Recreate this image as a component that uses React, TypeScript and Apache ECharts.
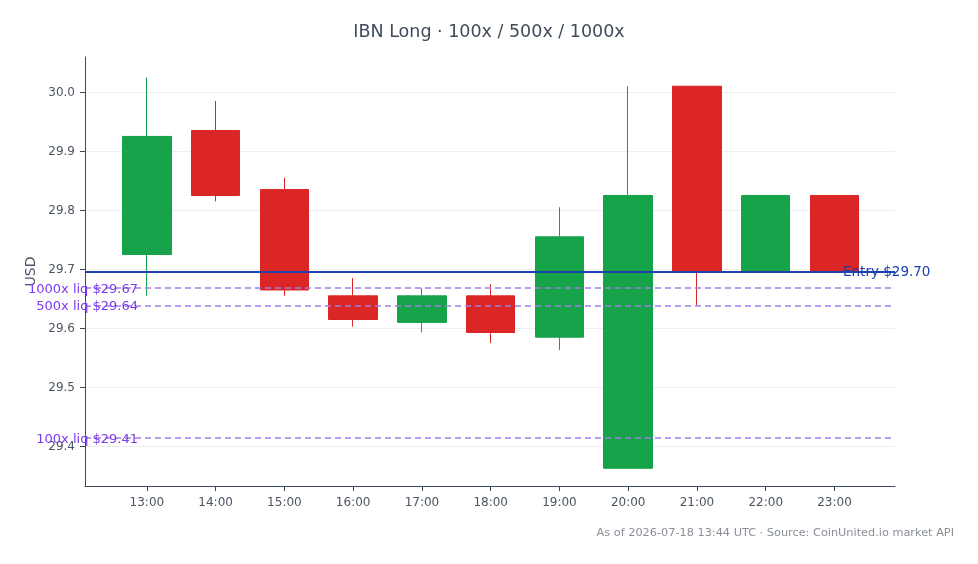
import React, { useEffect, useRef } from "react";
import * as echarts from "echarts";

const hours = ["13:00", "14:00", "15:00", "16:00", "17:00", "18:00", "19:00", "20:00", "21:00", "22:00", "23:00"];
const opens = [29.725, 29.935, 29.835, 29.655, 29.61, 29.655, 29.585, 29.363, 30.01, 29.695, 29.825];
const closes = [29.925, 29.825, 29.665, 29.615, 29.655, 29.593, 29.755, 29.825, 29.695, 29.825, 29.695];
const lows = [29.655, 29.815, 29.655, 29.603, 29.593, 29.575, 29.563, 29.363, 29.639, 29.695, 29.695];
const highs = [30.025, 29.985, 29.855, 29.685, 29.668, 29.675, 29.805, 30.01, 30.01, 29.825, 29.825];

const entryPrice = 29.695;
const liqNames = ["1000x", "500x", "100x"];
const liqPrices = [29.668, 29.639, 29.414];

const yTicks = [29.4, 29.5, 29.6, 29.7, 29.8, 29.9, 30.0];

const FONT = "DejaVu Sans";

export default function App() {
  const ref = useRef<HTMLDivElement>(null);
  useEffect(() => {
    if (!ref.current) return;
    const chart = echarts.init(ref.current, null, { renderer: "svg" });
    const data = hours.map((_, i) => [i, opens[i], closes[i], lows[i], highs[i]]);
    const liqLines = liqNames.map((n, i) => ({
      yAxis: liqPrices[i],
      lineStyle: { color: "#a07fe3", type: [6, 4], width: 1.5 },
      label: {
        show: true,
        position: "start",
        formatter: `${n} liq $${liqPrices[i].toFixed(2)}`,
        color: "#7c3aed",
        fontSize: 13,
        fontFamily: FONT,
        offset: [58, 0],
      },
    }));
    chart.setOption({
      animation: false,
      textStyle: { fontFamily: FONT },
      title: {
        text: "IBN Long · 100x / 500x / 1000x",
        left: "center",
        top: 17,
        textStyle: { fontFamily: FONT, fontSize: 17.5, fontWeight: "normal", color: "#3f4b5b" },
      },
      graphic: [
        {
          type: "text",
          right: 24,
          top: 527,
          style: {
            text: "As of 2026-07-18 13:44 UTC · Source: CoinUnited.io market API",
            fontFamily: FONT,
            fontSize: 11.3,
            fill: "#8a8f98",
          },
        },
      ],
      grid: { left: 85, right: 83, top: 57, bottom: 78 },
      xAxis: {
        type: "value",
        min: -0.9,
        max: 10.88,
        splitLine: { show: false },
        axisLine: { show: true, onZero: false, lineStyle: { color: "#3d4a5c", width: 1 } },
        axisTick: { show: true, length: 5, customValues: hours.map((_, i) => i), lineStyle: { color: "#3d4a5c" } },
        axisLabel: {
          customValues: hours.map((_, i) => i),
          formatter: (v: number) => hours[Math.round(v)],
          color: "#4b5563",
          fontSize: 12,
          fontFamily: FONT,
          margin: 10,
        },
      },
      yAxis: {
        type: "value",
        min: 29.333,
        max: 30.0595,
        name: "USD",
        nameLocation: "middle",
        nameGap: 48,
        nameTextStyle: { color: "#4b5563", fontSize: 14, fontFamily: FONT },
        axisLine: { show: true, onZero: false, lineStyle: { color: "#3d4a5c", width: 1 } },
        axisTick: { show: true, length: 5, customValues: yTicks, lineStyle: { color: "#3d4a5c" } },
        axisLabel: {
          customValues: yTicks,
          formatter: (v: number) => v.toFixed(1),
          color: "#4b5563",
          fontSize: 12,
          fontFamily: FONT,
          margin: 10,
        },
        splitLine: { show: true, lineStyle: { color: "#eceef1", width: 1 } },
      },
      series: [
        {
          type: "candlestick",
          data,
          barWidth: 49,
          itemStyle: {
            color: "#16a34a",
            color0: "#dc2626",
            borderColor: "#16a34a",
            borderColor0: "#dc2626",
            borderWidth: 1,
          },
          markLine: {
            silent: true,
            precision: 4,
            symbol: ["none", "none"],
            data: [
              {
                yAxis: entryPrice,
                lineStyle: { color: "#1e40af", type: "solid", width: 2 },
                label: {
                  show: true,
                  position: "end",
                  formatter: `Entry $${entryPrice.toFixed(2)}`,
                  color: "#1e40af",
                  fontSize: 13.5,
                  fontFamily: FONT,
                  offset: [-57, -1],
                },
              },
              ...liqLines,
            ],
          },
        },
      ],
    });
    return () => chart.dispose();
  }, []);
  return <div ref={ref} style={{ position: "fixed", left: 0, top: 0, width: 978, height: 564 }} />;
}
